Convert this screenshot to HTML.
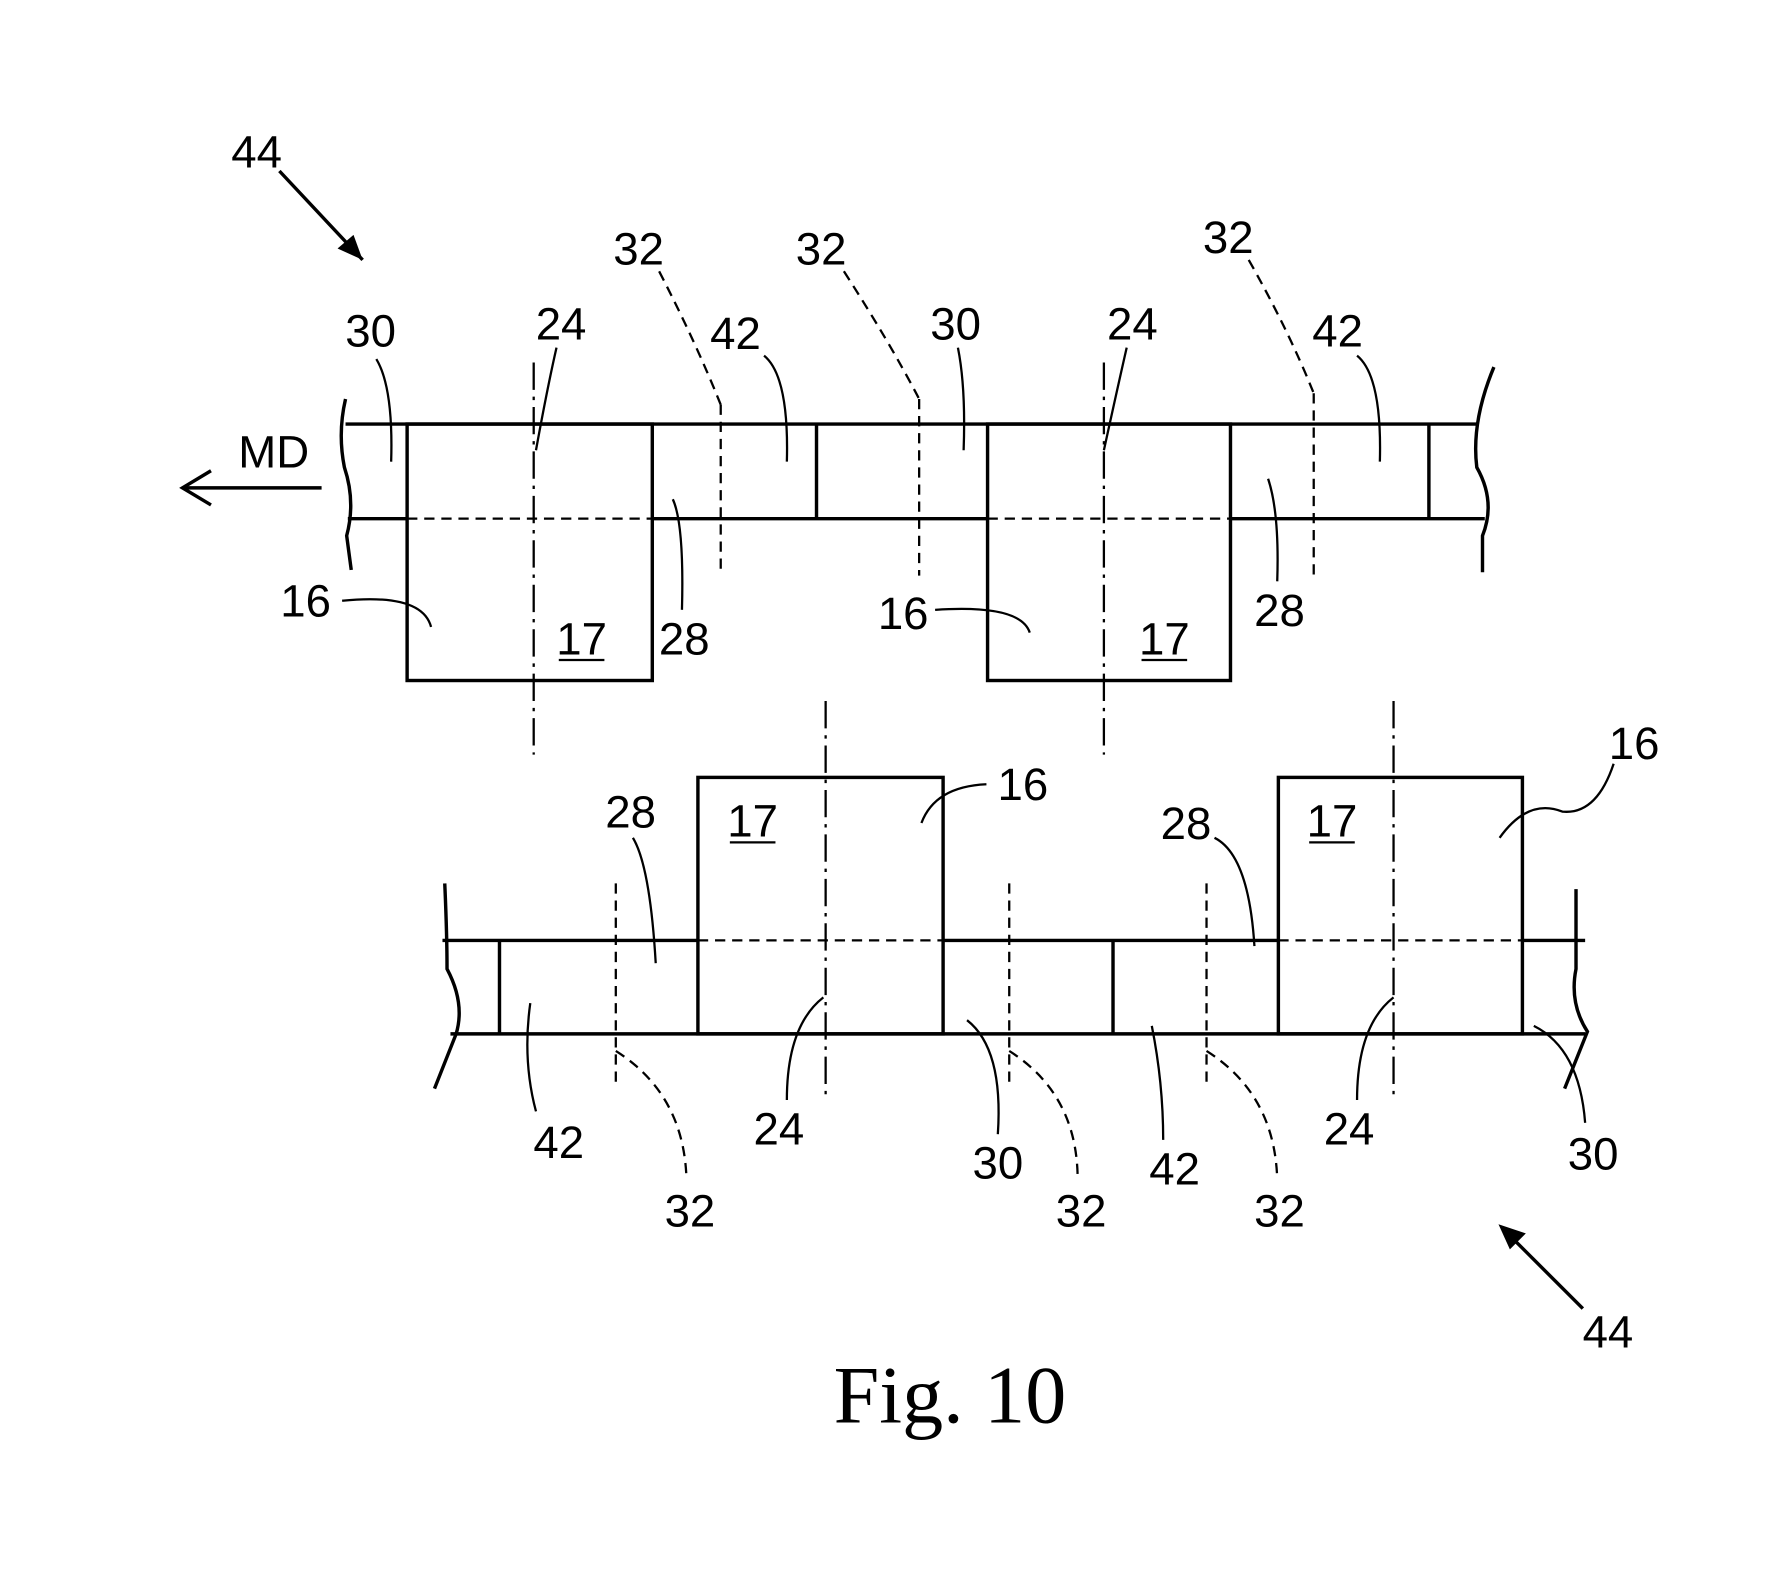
<!DOCTYPE html>
<html><head><meta charset="utf-8"><style>
html,body{margin:0;padding:0;background:#fff;}
svg{display:block;}
text{font-family:"Liberation Sans",sans-serif;font-size:40px;fill:#000;}
</style></head><body>
<svg width="1779" height="1589" viewBox="0 0 1560 1394" preserveAspectRatio="none" xmlns="http://www.w3.org/2000/svg">
<g fill="none" stroke="#000" stroke-width="3">
<line x1="303" y1="372" x2="1295" y2="372"/>
<line x1="305" y1="455" x2="357" y2="455"/>
<line x1="572" y1="455" x2="866" y2="455"/>
<line x1="1079" y1="455" x2="1302" y2="455"/>
<rect x="357" y="372" width="215" height="225"/>
<rect x="866" y="372" width="213" height="225"/>
<line x1="716" y1="372" x2="716" y2="455"/>
<line x1="1253" y1="372" x2="1253" y2="455"/>
<path d="M303 350 Q296 380 302 410 Q312 440 304 470 L308 500"/>
<path d="M1310 322 Q1290 370 1295 410 Q1312 440 1300 470 L1300 502"/>
<line x1="388" y1="825" x2="612" y2="825"/>
<line x1="827" y1="825" x2="1121" y2="825"/>
<line x1="1335" y1="825" x2="1390" y2="825"/>
<line x1="395" y1="907" x2="1390" y2="907"/>
<rect x="612" y="682" width="215" height="225"/>
<rect x="1121" y="682" width="214" height="225"/>
<line x1="438" y1="825" x2="438" y2="907"/>
<line x1="976" y1="825" x2="976" y2="907"/>
<path d="M390 775 Q392 820 392 850 Q408 880 400 907 L381 955"/>
<path d="M1382 780 L1382 850 Q1376 880 1392 905 L1372 955"/>
<line x1="160" y1="428" x2="282" y2="428"/>
<path d="M185 413 L160 428 L185 443"/>
<line x1="245" y1="150" x2="318" y2="228"/>
<line x1="1388" y1="1148" x2="1318" y2="1078"/>
</g>
<path d="M318 228 L296 218 L310 206 Z" fill="#000"/>
<path d="M1314 1074 L1338 1082 L1324 1096 Z" fill="#000"/>
<g fill="none" stroke="#000" stroke-width="2" stroke-dasharray="9,6">
<line x1="357" y1="455" x2="572" y2="455"/>
<line x1="866" y1="455" x2="1079" y2="455"/>
<line x1="612" y1="825" x2="827" y2="825"/>
<line x1="1121" y1="825" x2="1335" y2="825"/>
<line x1="632" y1="355" x2="632" y2="500"/>
<line x1="806" y1="350" x2="806" y2="505"/>
<line x1="1152" y1="345" x2="1152" y2="505"/>
<path d="M578 238 Q610 300 632 355"/>
<path d="M740 238 Q780 300 806 350"/>
<path d="M1095 228 Q1130 290 1152 345"/>
<line x1="540" y1="775" x2="540" y2="950"/>
<line x1="885" y1="775" x2="885" y2="950"/>
<line x1="1058" y1="775" x2="1058" y2="950"/>
<path d="M540 922 Q600 960 602 1035"/>
<path d="M885 922 Q945 960 945 1035"/>
<path d="M1058 922 Q1118 960 1120 1035"/>
</g>
<g fill="none" stroke="#000" stroke-width="2" stroke-dasharray="24,6,3,6">
<line x1="468" y1="318" x2="468" y2="662"/>
<line x1="968" y1="318" x2="968" y2="662"/>
<line x1="724" y1="615" x2="724" y2="962"/>
<line x1="1222" y1="615" x2="1222" y2="962"/>
</g>
<g fill="none" stroke="#000" stroke-width="2">
<path d="M330 315 Q345 340 343 405"/>
<path d="M488 305 Q480 340 470 395"/>
<path d="M670 312 Q692 330 690 405"/>
<path d="M840 305 Q847 340 845 395"/>
<path d="M988 305 Q980 340 968 395"/>
<path d="M1190 312 Q1212 330 1210 405"/>
<path d="M300 527 Q370 520 378 550"/>
<path d="M590 438 Q600 460 598 535"/>
<path d="M820 535 Q895 530 903 555"/>
<path d="M1112 420 Q1122 450 1120 510"/>
<path d="M575 845 Q570 760 555 735"/>
<path d="M808 722 Q820 690 865 688"/>
<path d="M1100 830 Q1095 750 1065 735"/>
<path d="M1315 735 Q1340 700 1370 712 Q1400 715 1415 670"/>
<path d="M465 880 Q458 930 470 975"/>
<path d="M722 875 Q690 900 690 965"/>
<path d="M848 895 Q880 920 875 995"/>
<path d="M1010 900 Q1020 950 1020 1000"/>
<path d="M1222 875 Q1190 900 1190 965"/>
<path d="M1345 900 Q1385 920 1390 985"/>
</g>
<g text-anchor="middle">
<text x="225" y="147">44</text>
<text x="240" y="410">MD</text>
<text x="560" y="232">32</text>
<text x="720" y="232">32</text>
<text x="1077" y="222">32</text>
<text x="325" y="304">30</text>
<text x="492" y="298">24</text>
<text x="645" y="306">42</text>
<text x="838" y="298">30</text>
<text x="993" y="298">24</text>
<text x="1173" y="304">42</text>
<text x="268" y="541">16</text>
<text x="510" y="574">17</text>
<text x="600" y="574">28</text>
<text x="792" y="552">16</text>
<text x="1021" y="574">17</text>
<text x="1122" y="549">28</text>
<text x="553" y="726">28</text>
<text x="660" y="734">17</text>
<text x="897" y="702">16</text>
<text x="1040" y="736">28</text>
<text x="1168" y="734">17</text>
<text x="1433" y="666">16</text>
<text x="490" y="1016">42</text>
<text x="683" y="1004">24</text>
<text x="875" y="1034">30</text>
<text x="1030" y="1039">42</text>
<text x="1183" y="1004">24</text>
<text x="1397" y="1026">30</text>
<text x="605" y="1076">32</text>
<text x="948" y="1076">32</text>
<text x="1122" y="1076">32</text>
<text x="1410" y="1182">44</text>
<text x="833" y="1248" style="font-family:'Liberation Serif',serif;font-size:72px">Fig. 10</text>
</g>
<g stroke="#000" stroke-width="2">
<line x1="490" y1="579" x2="530" y2="579"/>
<line x1="1001" y1="579" x2="1041" y2="579"/>
<line x1="640" y1="739" x2="680" y2="739"/>
<line x1="1148" y1="739" x2="1188" y2="739"/>
</g>
</svg>
</body></html>
